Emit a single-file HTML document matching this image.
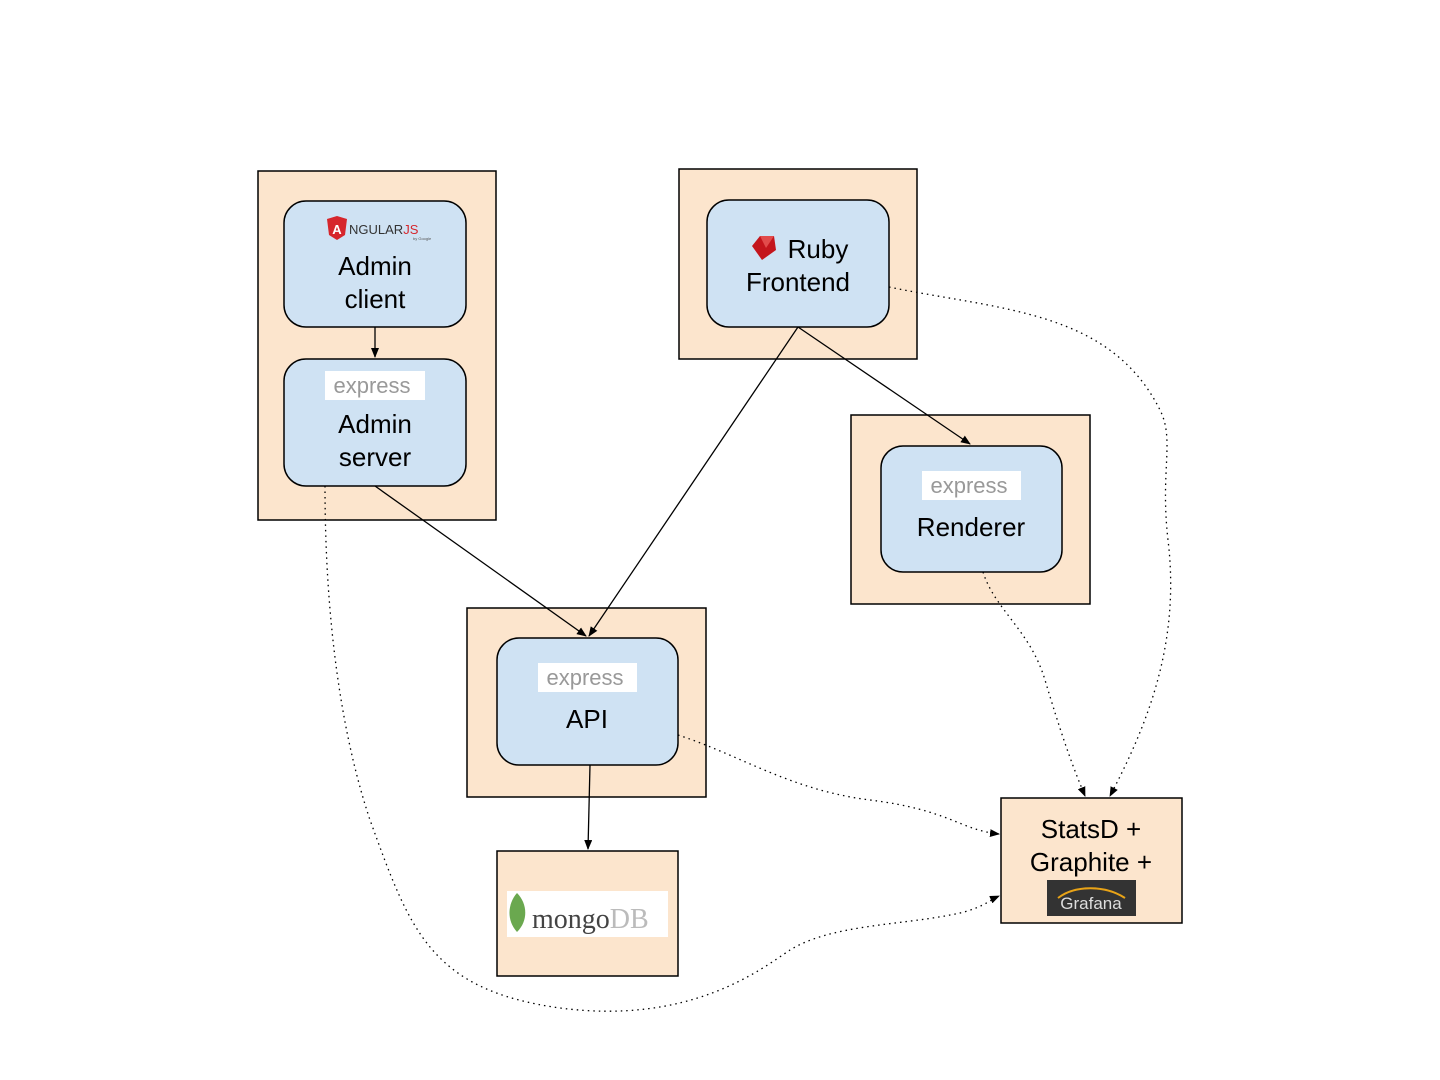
<!DOCTYPE html>
<html><head><meta charset="utf-8"><style>
html,body{margin:0;padding:0;background:#fff;}
svg{display:block;font-family:"Liberation Sans",sans-serif;}
</style></head><body>
<svg width="1440" height="1080" viewBox="0 0 1440 1080" xmlns="http://www.w3.org/2000/svg">
<defs>
<marker id="a" markerWidth="10" markerHeight="8" refX="9" refY="4" orient="auto" markerUnits="userSpaceOnUse">
<path d="M0,0 L10,4 L0,8 Z" fill="#000"/></marker>
</defs>
<g fill="#fce5cd" stroke="#000" stroke-width="1.5">
<rect x="258" y="171" width="238" height="349"/>
<rect x="679" y="169" width="238" height="190"/>
<rect x="851" y="415" width="239" height="189"/>
<rect x="467" y="608" width="239" height="189"/>
<rect x="497" y="851" width="181" height="125"/>
<rect x="1001" y="798" width="181" height="125"/>
</g>
<g fill="#cfe2f3" stroke="#000" stroke-width="1.5">
<rect x="284" y="201" width="182" height="126" rx="22"/>
<rect x="284" y="359" width="182" height="127" rx="22"/>
<rect x="707" y="200" width="182" height="127" rx="22"/>
<rect x="881" y="446" width="181" height="126" rx="22"/>
<rect x="497" y="638" width="181" height="127" rx="22"/>
</g>
<!-- solid arrows -->
<g stroke="#000" stroke-width="1.3" fill="none">
<line x1="375" y1="327" x2="375" y2="357" marker-end="url(#a)"/>
<line x1="375" y1="486" x2="586" y2="636" marker-end="url(#a)"/>
<line x1="798" y1="327" x2="589" y2="636" marker-end="url(#a)"/>
<line x1="798" y1="327" x2="970" y2="444" marker-end="url(#a)"/>
<line x1="590" y1="765" x2="588" y2="849" marker-end="url(#a)"/>
</g>
<!-- dotted -->
<g stroke="#000" stroke-width="1.3" fill="none" stroke-dasharray="1.5,4">
<path d="M889,287 C1000,310 1110,310 1160,410 C1175,440 1160,470 1168,540 C1180,640 1150,720 1110,796" marker-end="url(#a)"/>
<path d="M983,572 C995,610 1030,630 1045,680 C1060,730 1070,760 1085,796" marker-end="url(#a)"/>
<path d="M678,735 C740,755 790,790 870,800 C950,810 960,830 999,834" marker-end="url(#a)"/>
<path d="M325,486 C325,560 330,700 370,820 C410,930 430,990 560,1008 C690,1025 760,970 790,950 C830,925 900,925 950,915 C980,910 990,900 999,896" marker-end="url(#a)"/>
</g>
<!-- angular logo -->
<path d="M337,216 L347,219 L345,235 L337,240 L329,235 L327,219 Z" fill="#d6262c"/>
<text x="337" y="234" font-size="13" font-weight="bold" fill="#fff" text-anchor="middle">A</text>
<text x="349" y="234" font-size="13" fill="#333">NGULAR<tspan fill="#d6262c">JS</tspan></text>
<text x="413" y="240" font-size="4" fill="#555">by Google</text>
<g font-size="26" text-anchor="middle" fill="#000">
<text x="375" y="275">Admin</text>
<text x="375" y="308">client</text>
<text x="375" y="433">Admin</text>
<text x="375" y="466">server</text>
<text x="818" y="258">Ruby</text>
<text x="798" y="291">Frontend</text>
<text x="971" y="536">Renderer</text>
<text x="587" y="728">API</text>
<text x="1091" y="838">StatsD +</text>
<text x="1091" y="871">Graphite +</text>
</g>
<!-- ruby gem -->
<path d="M752,246 L760,236 L774,236 L776,250 L762,260 Z" fill="#c4151c"/>
<path d="M760,236 L774,236 L766,248 Z" fill="#e24b4b"/>
<!-- express labels -->
<g>
<rect x="325" y="371" width="100" height="29" fill="#fff"/>
<text x="372" y="393" font-size="22" fill="#999" text-anchor="middle">express</text>
<rect x="922" y="471" width="99" height="29" fill="#fff"/>
<text x="969" y="493" font-size="22" fill="#999" text-anchor="middle">express</text>
<rect x="538" y="663" width="99" height="29" fill="#fff"/>
<text x="585" y="685" font-size="22" fill="#999" text-anchor="middle">express</text>
</g>
<!-- mongo -->
<rect x="507" y="891" width="161" height="46" fill="#fff"/>
<path d="M517,893 C527,903 529,920 517,932 C506,920 508,903 517,893 Z" fill="#6aa84f"/>
<text x="532" y="928" font-size="28" font-family="Liberation Serif,serif" fill="#444">mongo<tspan fill="#bbb">DB</tspan></text>
<!-- grafana -->
<rect x="1047" y="880" width="89" height="36" fill="#333"/>
<path d="M1058,898 C1075,885 1105,885 1125,898" stroke="#e8a317" stroke-width="2" fill="none"/>
<text x="1091" y="909" font-size="17" fill="#ddd" text-anchor="middle">Grafana</text>
</svg>
</body></html>
